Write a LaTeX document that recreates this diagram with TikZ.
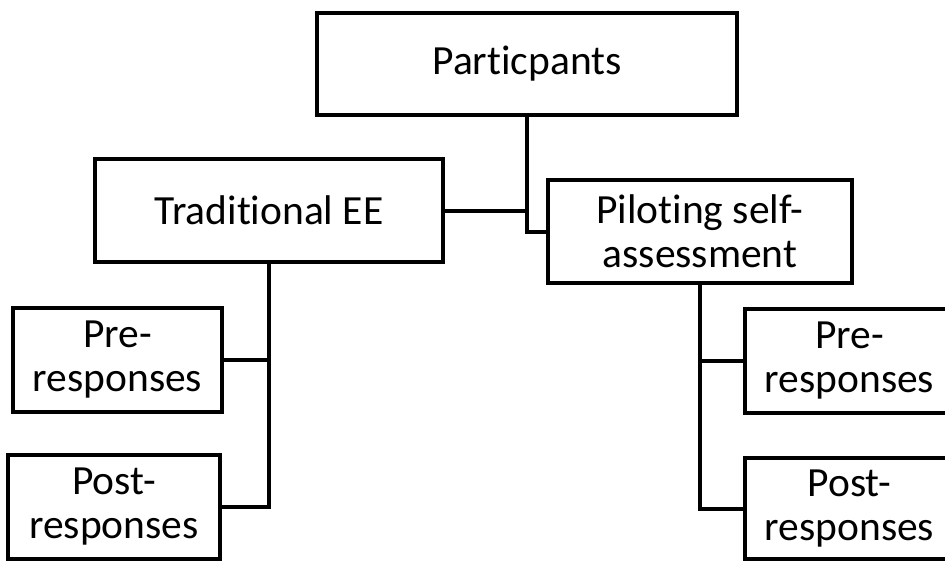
\documentclass[tikz,border=0pt]{standalone}
\usepackage{fontspec}
\setmainfont[Ligatures=NoCommon]{Carlito}
\begin{document}
\begin{tikzpicture}[x=1pt,y=-1pt,
  box/.style={draw=black,line width=4.5pt,rectangle,inner sep=0pt,align=center,
    font=\fontsize{41.5}{44}\selectfont},
  link/.style={draw=black,line width=4pt}]
\useasboundingbox (0,0) rectangle (945,563);
\node[box,minimum width=420pt,minimum height=102pt] (P) at (527,64) {Particpants};
\node[box,minimum width=348pt,minimum height=103pt] (T) at (269,210.5) {Traditional EE};
\node[box,minimum width=304pt,minimum height=103pt] (S) at (700,231.5) {Piloting self-\\assessment};
\node[box,minimum width=209pt,minimum height=104pt] (LPre) at (117.5,360) {Pre-\\responses};
\node[box,minimum width=212pt,minimum height=104pt] (LPost) at (114,507) {Post-\\responses};
\node[box,minimum width=215pt,minimum height=104pt] (RPre) at (852.5,361) {\hspace*{-6pt}Pre-\\\hspace*{-6pt}responses};
\node[box,minimum width=215pt,minimum height=101pt] (RPost) at (852.5,508.5) {\hspace*{-6pt}Post-\\\hspace*{-6pt}responses};
\draw[link] (P.south) |- (S.west);
\draw[link] (T.east) -- (T.east -| P.south);
\draw[link] (T.south) |- (LPost.east);
\draw[link] (LPre.east) -- (LPre.east -| T.south);
\draw[link] (S.south) |- (RPost.west);
\draw[link] (RPre.west) -- (RPre.west -| S.south);
\end{tikzpicture}
\end{document}
